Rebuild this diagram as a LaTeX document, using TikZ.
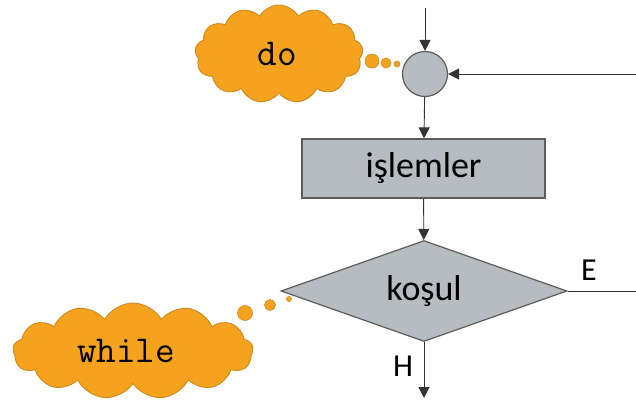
\documentclass[tikz,border=0pt]{standalone}
\usepackage{fontspec}
\usepackage{tikz}
\usetikzlibrary{shapes.geometric,shapes.symbols,arrows.meta}
\newfontfamily\flowFont{Carlito}
\definecolor{flowGray}{HTML}{B6BCBF}
\definecolor{flowEdge}{HTML}{5C5C5C}
\definecolor{cloudFill}{HTML}{F5A21E}
\definecolor{cloudEdge}{HTML}{C98A1E}

\begin{document}
\begin{tikzpicture}[x=1pt,y=-1pt,
  flowLine/.style={draw=black!80, line width=0.9pt},
  flowArrow/.style={flowLine, -{Triangle[length=11pt,width=11pt]}},
  flowBox/.style={draw=flowEdge, fill=flowGray, line width=1.2pt, inner sep=0pt, font={\flowFont\fontsize{36}{40}\selectfont}},
  thoughtCloud/.style={shape=cloud, draw=cloudEdge, fill=cloudFill, line width=0.9pt, cloud puffs=13, cloud puff arc=120, inner sep=0pt, font={\ttfamily\fontsize{38}{40}\selectfont}},
  thoughtDot/.style={circle, draw=cloudEdge, fill=cloudFill, line width=0.6pt, inner sep=0pt},
  edgeLabel/.style={font={\flowFont\fontsize{32}{36}\selectfont}}]
\useasboundingbox (0,0) rectangle (636,407);
\node[flowBox, circle, minimum size=45pt] (join) at (425,74) {};
\node[flowBox, rectangle, minimum width=243pt, minimum height=59pt] (steps) at (423.5,168.5) {işlemler};
\node[flowBox, diamond, minimum width=286pt, minimum height=101pt, aspect=2.8] (test) at (424,291) {\raisebox{-3pt}{koşul}};
\coordinate (entry) at (425,8);
\coordinate (loopback) at (636,74);
\coordinate (yesEnd) at (636,291);
\coordinate (noEnd) at (424,398);
\draw[flowArrow] (entry) -- (join);
\draw[flowArrow] (loopback) -- (join);
\draw[flowArrow] (join) -- (steps);
\draw[flowArrow] (steps) -- (test);
\draw[flowLine] (test.east) -- (yesEnd);
\draw[flowArrow] (test.south) -- (noEnd);
\node[edgeLabel] (yesLbl) at (589,270) {E};
\node[edgeLabel] (noLbl) at (403,366) {H};
\node[thoughtCloud, minimum width=168pt, minimum height=98pt, aspect=1.7] (doCloud) at (279,54) {\hspace*{-4pt}do};
\node[thoughtDot, minimum size=14pt] (doDot1) at (372,61) {};
\node[thoughtDot, minimum size=10pt] (doDot2) at (386,63) {};
\node[thoughtDot, minimum size=6pt] (doDot3) at (397,64) {};
\node[thoughtCloud, minimum width=240pt, minimum height=96pt, aspect=2.5] (whileCloud) at (133,351) {\hspace*{-14pt}while};
\node[thoughtDot, minimum size=15pt] (whileDot1) at (245,313) {};
\node[thoughtDot, minimum size=11pt] (whileDot2) at (270,305) {};
\node[thoughtDot, minimum size=5pt] (whileDot3) at (289,299) {};
\end{tikzpicture}
\end{document}
